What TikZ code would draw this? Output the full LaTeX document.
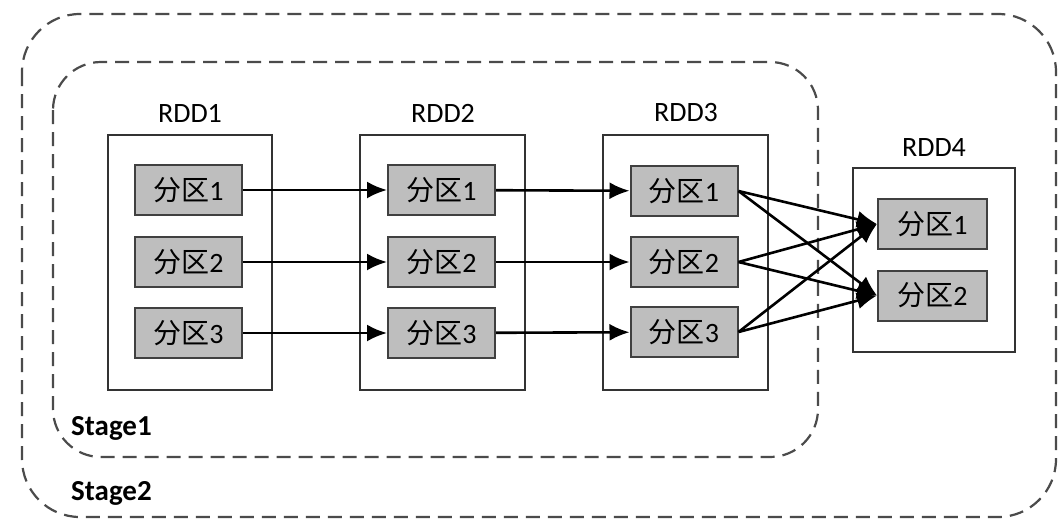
\documentclass[tikz,border=0pt]{standalone}
\usepackage{fontspec}
\setmainfont{Carlito}
\newfontfamily\cjk{Noto Sans CJK SC}
\usetikzlibrary{arrows.meta}
\definecolor{partfill}{RGB}{190,190,190}
\definecolor{dashcol}{RGB}{75,75,75}
\tikzset{
  stagebox/.style={draw=dashcol, line width=2.2pt, dash pattern=on 14pt off 8pt},
  rddbox/.style={draw=black!80, line width=1.6pt, fill=white},
  part/.style={draw=black!75, line width=2pt, fill=partfill, minimum width=107pt, minimum height=50pt, inner sep=0pt, font=\fontsize{28}{30}\selectfont},
  rddlabel/.style={font=\fontsize{28}{30}\selectfont, inner sep=0pt},
  stagelabel/.style={font=\fontsize{29}{30}\selectfont\bfseries, inner sep=0pt, anchor=west},
  arr/.style={line width=2.6pt, -{Latex[length=20pt,width=17pt]}},
}
\newcommand{\fq}[1]{{\cjk\fontsize{28}{30}\selectfont 分区}#1}
\begin{document}
\begin{tikzpicture}[x=1pt,y=-1pt]
\useasboundingbox (0,0) rectangle (1064,528);
\fill[white] (0,0) rectangle (1064,528);
% stages
\draw[stagebox, rounded corners=58pt] (22,14) rectangle (1056,517);
\draw[stagebox, rounded corners=48pt] (53,62) rectangle (818,457);
\node[stagelabel] (s1) at (71,428) {Stage1};
\node[stagelabel] (s2) at (71,493) {Stage2};
% RDD boxes
\draw[rddbox] (108,135) rectangle (272,390);
\draw[rddbox] (360,135) rectangle (525,390);
\draw[rddbox] (603,135) rectangle (768,390);
\draw[rddbox] (853,168) rectangle (1015,352);
\node[rddlabel] (l1) at (190,113) {RDD1};
\node[rddlabel] (l2) at (443,113) {RDD2};
\node[rddlabel] (l3) at (686,113) {RDD3};
\node[rddlabel] (l4) at (934,148) {RDD4};
% partitions
\node[part] (a1) at (188.5,190) {\fq{1}};
\node[part] (a2) at (188.5,262) {\fq{2}};
\node[part] (a3) at (188.5,333) {\fq{3}};
\node[part] (b1) at (441.5,190) {\fq{1}};
\node[part] (b2) at (441.5,262) {\fq{2}};
\node[part] (b3) at (441.5,333) {\fq{3}};
\node[part] (c1) at (684,191) {\fq{1}};
\node[part] (c2) at (684,262) {\fq{2}};
\node[part] (c3) at (684,332) {\fq{3}};
\node[part, minimum width=109pt] (d1) at (932.5,224) {\fq{1}};
\node[part, minimum width=109pt] (d2) at (932.5,295.5) {\fq{2}};
% arrows
\draw[arr] (a1) -- (b1);
\draw[arr] (a2) -- (b2);
\draw[arr] (a3) -- (b3);
\draw[arr] (b1) -- (c1);
\draw[arr] (b2) -- (c2);
\draw[arr] (b3) -- (c3);
\draw[arr] (c1.east) -- (d1.west);
\draw[arr] (c1.east) -- (d2.west);
\draw[arr] (c2.east) -- (d1.west);
\draw[arr] (c2.east) -- (d2.west);
\draw[arr] (c3.east) -- (d1.west);
\draw[arr] (c3.east) -- (d2.west);
\end{tikzpicture}
\end{document}
